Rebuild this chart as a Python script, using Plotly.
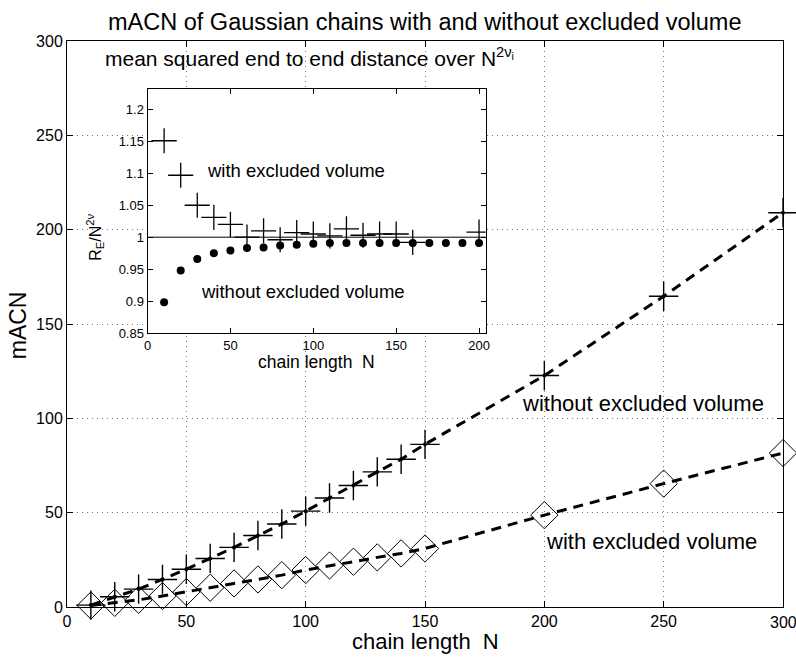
import plotly.graph_objects as go

# ---- data ----
N_main = [10, 20, 30, 40, 50, 60, 70, 80, 90, 100, 110, 120, 130, 140, 150, 200, 250, 300]
macn_without = [1.0, 5.4, 9.5, 14.6, 20.0, 25.7, 31.6, 37.9, 44.0, 50.8, 57.8, 64.4, 71.6, 78.3, 86.2, 122.7, 164.7, 209.0]
macn_with = [0.8, 2.2, 3.8, 5.8, 7.9, 10.2, 12.5, 14.6, 16.9, 19.6, 22.0, 24.0, 26.3, 28.4, 31.0, 48.7, 65.4, 81.6]

N_inset_cross = [10, 20, 30, 40, 50, 60, 70, 80, 90, 100, 110, 120, 130, 140, 150, 160, 200]
re_with = [1.151, 1.097, 1.050, 1.031, 1.020, 1.000, 1.010, 0.996, 1.007, 1.005, 1.002, 1.013, 1.003, 1.005, 1.005, 0.992, 1.008]
N_inset_dot = [10, 20, 30, 40, 50, 60, 70, 80, 90, 100, 110, 120, 130, 140, 150, 160, 170, 180, 190, 200]
re_without = [0.898, 0.948, 0.966, 0.975, 0.979, 0.983, 0.984, 0.987, 0.988, 0.9896, 0.991, 0.991, 0.991, 0.991, 0.991, 0.991, 0.991, 0.991, 0.991, 0.991]

main_xticks = [0, 50, 100, 150, 200, 250]
last_xtick = 300
inset_yticks = [0.85, 0.9, 0.95, 1.0, 1.05, 1.1, 1.15, 1.2]
inset_yticktext = ["0.85", "0.9", "0.95", "1", "1.05", "1.1", "1.15", "1.2"]

FONT = "Liberation Sans, Arial, sans-serif"
W, H = 796, 657
L, R, T, B = 67, 9, 41, 50
PW, PH = W - L - R, H - T - B


def px(x):
    return (x - L) / PW


def py(y):
    return (H - B - y) / PH


fig = go.Figure()

# main: without excluded volume
fig.add_trace(go.Scatter(x=N_main, y=macn_without, mode="lines+markers", cliponaxis=False,
                         line=dict(color="black", width=3, dash="10px,7px"),
                         marker=dict(symbol="circle", size=4, color="black"),
                         showlegend=False))
fig.add_trace(go.Scatter(x=N_main, y=macn_without, mode="markers", cliponaxis=False,
                         marker=dict(symbol="cross-thin-open", size=21, color="black",
                                     line=dict(color="black", width=1.4)),
                         showlegend=False))
# main: with excluded volume
fig.add_trace(go.Scatter(x=N_main, y=macn_with, mode="lines+markers", cliponaxis=False,
                         line=dict(color="black", width=3, dash="10px,7px"),
                         marker=dict(symbol="diamond-open", size=21, color="black",
                                     line=dict(color="black", width=1)),
                         showlegend=False))

# inset
fig.add_trace(go.Scatter(x=N_inset_cross, y=re_with, mode="markers", xaxis="x2", yaxis="y2",
                         marker=dict(symbol="cross-thin-open", size=18, color="black",
                                     line=dict(color="black", width=1.3)),
                         showlegend=False))
fig.add_trace(go.Scatter(x=N_inset_dot, y=re_without, mode="markers", xaxis="x2", yaxis="y2",
                         marker=dict(symbol="circle", size=8, color="black"),
                         showlegend=False))

grid = dict(showgrid=True, gridcolor="#777777", gridwidth=1, griddash="1px,4px")
axis_common = dict(showline=True, linecolor="black", linewidth=1, mirror="ticks",
                   ticks="inside", ticklen=6, tickcolor="black", zeroline=False,
                   tickfont=dict(family=FONT, size=16, color="black"))
inset_common = dict(showgrid=False, showline=True, linecolor="black", linewidth=1,
                    mirror="ticks", ticks="inside", ticklen=5, tickcolor="black",
                    zeroline=False, tickfont=dict(family=FONT, size=13, color="black"))

fig.update_layout(
    width=W, height=H,
    margin=dict(l=L, r=R, t=T, b=B, pad=0),
    paper_bgcolor="white", plot_bgcolor="white",
    xaxis=dict(range=[0, 300], tickvals=main_xticks + [last_xtick],
               ticktext=[str(v) for v in main_xticks] + [""],
               domain=[0, 1], **grid, **axis_common),
    yaxis=dict(range=[0, 300], dtick=50, tick0=0, domain=[0, 1], **grid, **axis_common),
    xaxis2=dict(range=[0, 204], dtick=50, tick0=0, anchor="y2",
                domain=[px(148), px(488)], **inset_common),
    yaxis2=dict(range=[0.85, 1.232], tickvals=inset_yticks, ticktext=inset_yticktext,
                anchor="x2", domain=[py(333), py(89)], **inset_common),
    shapes=[
        dict(type="rect", xref="x2 domain", yref="y2 domain", x0=0, x1=1, y0=0, y1=1,
             layer="below", fillcolor="white", line=dict(width=0)),
        dict(type="line", xref="x2 domain", yref="y2", x0=0, x1=1, y0=1, y1=1,
             line=dict(color="black", width=1)),
    ],
)

ann = []
# last main x tick label (cut by the page edge, as in the original)
ann.append(dict(text=str(last_xtick), x=last_xtick, y=0, xref="x", yref="y", yshift=-5,
                showarrow=False, xanchor="center", yanchor="top",
                font=dict(family=FONT, size=16, color="black")))
ann.append(dict(text="mACN of Gaussian chains with and without excluded volume",
                x=px(427), y=py(22), xref="paper", yref="paper", showarrow=False,
                xanchor="center", yanchor="middle",
                font=dict(family=FONT, size=23.5, color="black")))
ann.append(dict(text="chain length  N", x=px(427), y=py(641), xref="paper", yref="paper",
                showarrow=False, xanchor="center", yanchor="middle",
                font=dict(family=FONT, size=22, color="black")))
ann.append(dict(text="mACN", x=px(18), y=py(325), xref="paper", yref="paper", textangle=-90,
                showarrow=False, xanchor="center", yanchor="middle",
                font=dict(family=FONT, size=23, color="black")))
ann.append(dict(text="without excluded volume", x=190, y=108, xref="x", yref="y",
                showarrow=False, xanchor="left", yanchor="middle",
                font=dict(family=FONT, size=22, color="black")))
ann.append(dict(text="with excluded volume", x=200, y=34.5, xref="x", yref="y",
                showarrow=False, xanchor="left", yanchor="middle",
                font=dict(family=FONT, size=22, color="black")))
# inset texts
ann.append(dict(text="mean squared end to end distance over N<sup>2ν<sub>i</sub></sup>",
                x=px(103), y=py(72), xref="paper", yref="paper", showarrow=False,
                xanchor="left", yanchor="bottom",
                font=dict(family=FONT, size=21, color="black")))
ann.append(dict(text="with excluded volume", x=34.8, y=1.104, xref="x2", yref="y2",
                showarrow=False, xanchor="left", yanchor="middle",
                font=dict(family=FONT, size=18.5, color="black")))
ann.append(dict(text="without excluded volume", x=31.2, y=0.915, xref="x2", yref="y2",
                showarrow=False, xanchor="left", yanchor="middle",
                font=dict(family=FONT, size=18.5, color="black")))
ann.append(dict(text="chain length  N", x=px(318), y=py(362), xref="paper", yref="paper",
                showarrow=False, xanchor="center", yanchor="middle",
                font=dict(family=FONT, size=17.5, color="black")))
ann.append(dict(text="R<sub>E</sub>/N<sup>2ν</sup>", x=px(95), y=py(237), xref="paper", yref="paper",
                textangle=-90, showarrow=False, xanchor="center", yanchor="middle",
                font=dict(family=FONT, size=16, color="black")))
fig.update_layout(annotations=ann)

fig.write_html("out.html")
